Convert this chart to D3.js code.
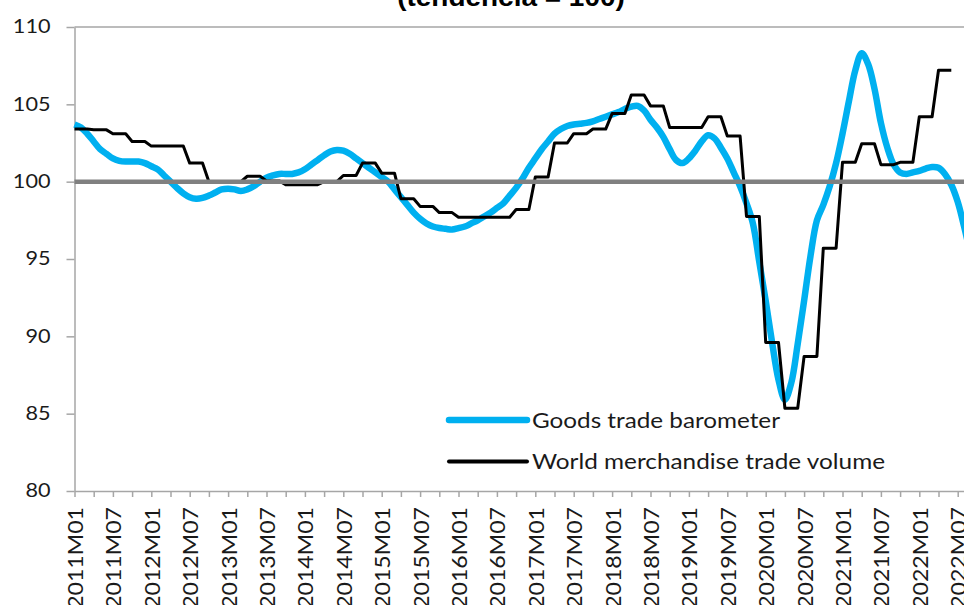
<!DOCTYPE html>
<html><head><meta charset="utf-8">
<script src="https://cdn.jsdelivr.net/npm/d3@7"></script>
<style>html,body{margin:0;padding:0;background:#fff;overflow:hidden}</style>
</head><body>
<svg id="chart" width="964" height="605"></svg>
<script>
// ---------- data ----------
const startYear = 2011;
const titleText = "(tendencia = 100)";
const legendLabels = ["Goods trade barometer", "World merchandise trade volume"];
const yTicks = [80, 85, 90, 95, 100, 105, 110];
const trendLevel = 100;
const tickLabels = ["2011M01","2011M07","2012M01","2012M07","2013M01","2013M07","2014M01","2014M07",
  "2015M01","2015M07","2016M01","2016M07","2017M01","2017M07","2018M01","2018M07",
  "2019M01","2019M07","2020M01","2020M07","2021M01","2021M07","2022M01","2022M07"];
// Goods trade barometer, monthly from 2011M01
const barometer = [
  103.7,103.5,103.1,102.6,102.1,101.8,101.5,101.35,101.3,101.3,101.3,101.2,
  101.0,100.8,100.4,100.0,99.6,99.25,99.0,98.9,98.95,99.1,99.3,99.5,
  99.55,99.5,99.4,99.5,99.7,100.0,100.25,100.4,100.5,100.5,100.5,100.6,
  100.8,101.1,101.4,101.7,101.95,102.05,102.0,101.8,101.5,101.2,100.9,100.6,
  100.3,100.0,99.5,99.0,98.5,98.0,97.6,97.3,97.1,97.0,96.95,96.9,
  97.0,97.1,97.3,97.5,97.75,98.0,98.3,98.6,99.1,99.6,100.2,100.9,
  101.5,102.1,102.6,103.1,103.4,103.6,103.7,103.75,103.8,103.9,104.05,104.2,
  104.35,104.5,104.7,104.85,104.9,104.6,104.0,103.5,102.9,102.1,101.4,101.2,
  101.5,102.0,102.6,103.0,102.8,102.2,101.5,100.6,99.7,98.6,97.3,94.8,
  92.3,89.6,87.2,85.9,87.0,89.5,92.3,95.2,97.5,98.5,99.7,101.2,
  103.1,105.2,107.2,108.3,107.6,106.0,103.8,102.2,101.1,100.6,100.5,100.6,
  100.7,100.85,100.95,100.9,100.5,99.8,98.7,97.1,95.3,93.4
];
// World merchandise trade volume, quarterly from 2011Q1 (drawn over its three months)
const volumeQuarterly = [
  103.4,103.35,103.1,102.6, 102.3,102.3,101.2,100.0, 100.0,100.35,100.05,99.8,
  99.8,100.0,100.4,101.2, 100.55,98.9,98.4,98.0, 97.7,97.7,97.7,98.2,
  100.3,102.5,103.1,103.4, 104.4,105.6,104.9,103.5, 103.5,104.2,102.95,97.75,
  89.6,85.35,88.7,95.7, 101.25,102.45,101.1,101.25, 104.2,107.2
];

// ---------- derived ----------
const months = d3.range(barometer.length).map(i =>
  `${startYear + Math.floor(i / 12)}M${String(i % 12 + 1).padStart(2, "0")}`);
const volume = months.slice(0, volumeQuarterly.length * 3)
  .map((m, i) => ({m, v: volumeQuarterly[Math.floor(i / 3)]}));
const baro = months.map((m, i) => ({m, v: barometer[i]}));

const svg = d3.select("#chart");
const x0 = 74.5, step = 6.4;
const x = d3.scalePoint().domain(months).range([x0, x0 + step * (months.length - 1)]);
const y = d3.scaleLinear().domain([80, 110]).range([491, 27]);
const axisColor = "#a6a6a6";
const font = "Lato, 'Open Sans', sans-serif";

function stretch(sel, k) {
  sel.each(function () {
    const w = this.getComputedTextLength();
    this.setAttribute("textLength", w * k);
    this.setAttribute("lengthAdjust", "spacingAndGlyphs");
  });
}

// title (partially cut at top)
svg.append("text").attr("x", 511).attr("y", 6)
  .attr("text-anchor", "middle")
  .style("font-family", "'Liberation Sans', Arial, sans-serif")
  .style("font-weight", "bold").style("font-size", "26px").attr("fill", "#000")
  .text(titleText).call(stretch, 228 / 212);

// top line at 110
svg.append("line").attr("x1", x0).attr("x2", 964)
  .attr("y1", y(110)).attr("y2", y(110))
  .attr("stroke", axisColor).attr("stroke-width", 1.5);

// y axis
const yAxis = svg.append("g").attr("transform", `translate(${x0},0)`)
  .call(d3.axisLeft(y).tickValues(yTicks).tickSize(8).tickSizeOuter(0).tickPadding(16));
yAxis.select(".domain").attr("stroke", axisColor).attr("stroke-width", 1.5);
yAxis.selectAll(".tick line").attr("stroke", axisColor).attr("stroke-width", 1.5);
yAxis.selectAll(".tick text")
  .style("font-family", font).style("font-size", "18.5px").attr("fill", "#1a1a1a")
  .call(stretch, 1.17);

// x axis
const xAxis = svg.append("g").attr("transform", `translate(0,${y(80)})`)
  .call(d3.axisBottom(x)
    .tickValues(months.filter((m, i) => i % 3 === 0))
    .tickSize(6).tickSizeOuter(0)
    .tickFormat(m => tickLabels.includes(m) ? m : ""));
xAxis.select(".domain").attr("stroke", axisColor).attr("stroke-width", 1.5);
xAxis.selectAll(".tick line").attr("stroke", axisColor).attr("stroke-width", 1.5);
xAxis.selectAll(".tick text")
  .attr("transform", "rotate(-90)")
  .attr("x", -16).attr("y", 0).attr("dy", "0.36em")
  .style("text-anchor", "end")
  .style("font-family", font).style("font-size", "22px").attr("fill", "#1a1a1a")
  .call(stretch, 1.05);

// series
const line = d3.line().x(d => x(d.m)).y(d => y(d.v));
svg.append("path").datum(baro)
  .attr("d", line.curve(d3.curveCatmullRom.alpha(0.5)))
  .attr("fill", "none").attr("stroke", "#00b0f0").attr("stroke-width", 6.5)
  .attr("stroke-linejoin", "round");
svg.append("path").datum(volume)
  .attr("d", d3.line().x(d => x(d.m)).y(d => y(d.v)))
  .attr("fill", "none").attr("stroke", "#000").attr("stroke-width", 3)
  .attr("stroke-linejoin", "round");
svg.append("path").datum(months.map(m => ({m, v: trendLevel})))
  .attr("d", d3.line().x(d => x(d.m)).y(d => y(d.v)))
  .attr("fill", "none").attr("stroke", "#808080").attr("stroke-width", 4.5);

// legend
const legend = svg.append("g");
const legendItems = [
  {label: legendLabels[0], color: "#00b0f0", w: 6.5, y: 420, k: 248},
  {label: legendLabels[1], color: "#000", w: 4, y: 461.5, k: 353}
];
legendItems.forEach(it => {
  legend.append("line").attr("x1", 449).attr("x2", 527).attr("y1", it.y).attr("y2", it.y)
    .attr("stroke", it.color).attr("stroke-width", it.w).attr("stroke-linecap", "round");
  const t = legend.append("text").attr("x", 532).attr("y", it.y + 7.5)
    .style("font-family", font).style("font-size", "22px").attr("fill", "#1a1a1a")
    .text(it.label);
  const w = t.node().getComputedTextLength();
  t.call(stretch, it.k / w);
});
</script>
</body></html>
